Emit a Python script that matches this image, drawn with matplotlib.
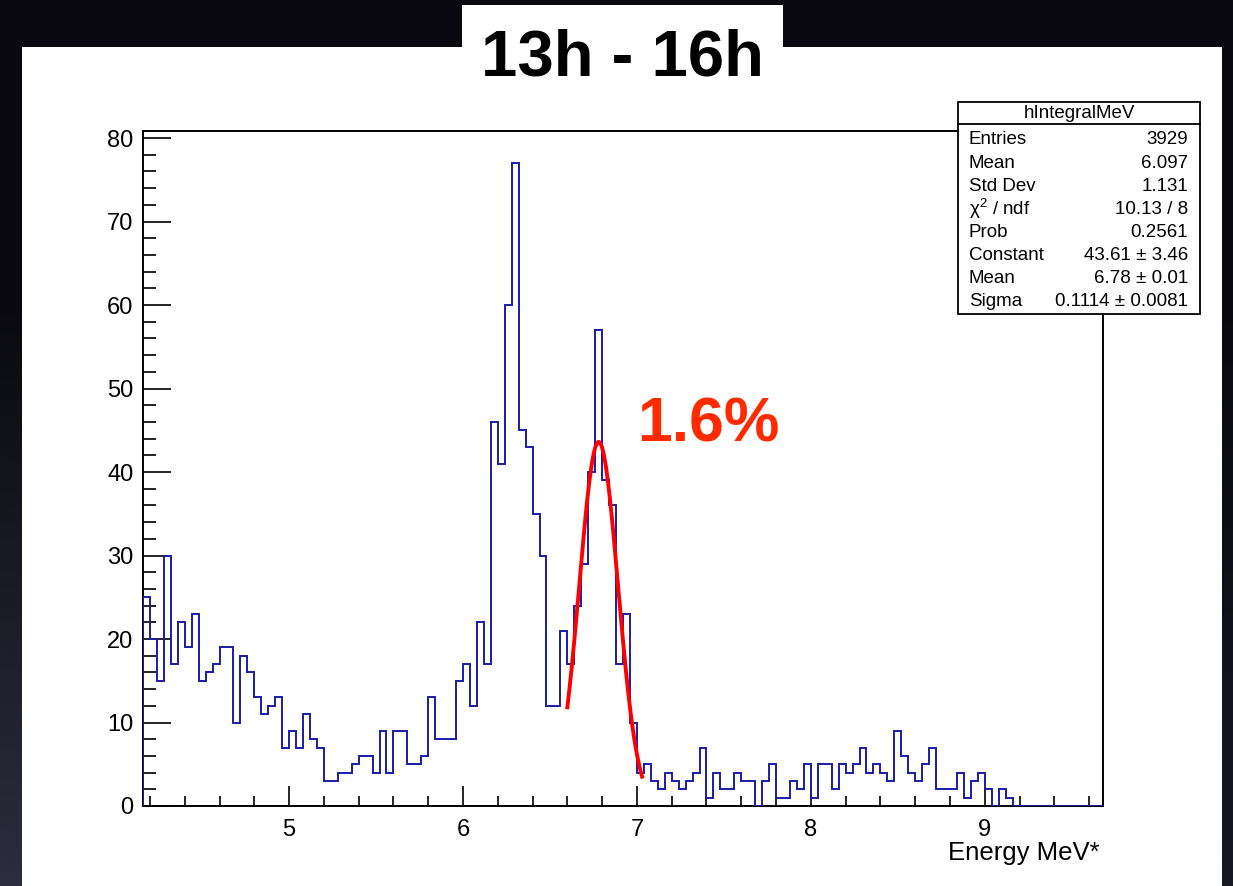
"""Energy spectrum for the 13h - 16h window with a Gaussian fit of the 6.8 MeV peak."""

from __future__ import annotations

import matplotlib

matplotlib.use("Agg")

import matplotlib.pyplot as plt
import numpy as np
from matplotlib.patches import Rectangle
from matplotlib.ticker import MultipleLocator

FIG_W, FIG_H = 1233, 886

TITLE = "13h - 16h"
HIST_NAME = "hIntegralMeV"
X_LABEL = "Energy MeV*"

# histogram binning and contents (counts per 0.04 MeV bin starting at 4.16 MeV)
BIN_LOW = 4.16
BIN_WIDTH = 0.04
COUNTS = [
    25, 20, 15, 30, 17, 22, 19, 23, 15, 16,
    17, 19, 19, 10, 18, 16, 13, 11, 12, 13,
    7, 9, 7, 11, 8, 7, 3, 3, 4, 4,
    5, 6, 6, 4, 9, 4, 9, 9, 5, 5,
    6, 13, 8, 8, 8, 15, 17, 12, 22, 17,
    46, 41, 60, 77, 45, 43, 35, 30, 12, 12,
    21, 17, 24, 29, 40, 57, 39, 36, 17, 23,
    10, 4, 5, 3, 2, 4, 3, 2, 3, 4,
    7, 1, 4, 2, 2, 4, 3, 3, 0, 3,
    5, 1, 1, 3, 2, 5, 1, 5, 5, 2,
    5, 4, 5, 7, 4, 5, 4, 3, 9, 6,
    4, 3, 5, 7, 2, 2, 2, 4, 1, 3,
    4, 2, 0, 2, 1, 0, 0, 0, 0, 0,
    0, 0, 0, 0, 0, 0, 0, 0,
]

# statistics box
ENTRIES = 3929
STAT_MEAN = 6.097
STAT_STD = 1.131
CHI2 = 10.13
NDF = 8
PROB = 0.2561
FIT_CONSTANT = (43.61, 3.46)
FIT_MEAN = (6.78, 0.01)
FIT_SIGMA = (0.1114, 0.0081)
FIT_RANGE = (6.60, 7.03)

HIST_COLOR = "#1c1ca6"
FIT_COLOR = "#ff0000"
NOTE_COLOR = "#ff2a00"


def fx(px: float) -> float:
    return px / FIG_W


def fy(py: float) -> float:
    return 1.0 - py / FIG_H


def draw_background(fig: plt.Figure) -> None:
    bg = fig.add_axes([0, 0, 1, 1], zorder=-10)
    yy, xx = np.mgrid[0:1:200j, 0:1:200j]
    shade = 0.04 + 0.22 * np.clip(yy - 0.35, 0, None) * (1.0 - 0.6 * xx)
    img = np.dstack([shade * 0.95, shade * 0.97, shade * 1.25 + 0.01])
    bg.imshow(np.clip(img, 0, 1), extent=[0, 1, 0, 1], aspect="auto", origin="upper")
    bg.set_axis_off()

    fig.patches.append(
        Rectangle((fx(22), 0), fx(1222) - fx(22), fy(47), transform=fig.transFigure,
                  facecolor="white", edgecolor="none", zorder=-5)
    )
    fig.patches.append(
        Rectangle((fx(462), fy(60)), fx(783) - fx(462), fy(5) - fy(60),
                  transform=fig.transFigure, facecolor="white", edgecolor="none", zorder=-5)
    )
    fig.text(fx(622), fy(59), TITLE, ha="center", va="center",
             fontsize=47, fontweight="bold", color="black")


def draw_histogram(fig: plt.Figure) -> plt.Axes:
    counts = np.asarray(COUNTS, dtype=float)
    edges = BIN_LOW + BIN_WIDTH * np.arange(counts.size + 1)

    ax = fig.add_axes([fx(143), fy(806), fx(1103) - fx(143), fy(131) - fy(806)])
    ax.set_facecolor("white")
    ax.stairs(counts, edges, color=HIST_COLOR, linewidth=1.4, zorder=3)

    const, mean, sigma = FIT_CONSTANT[0], FIT_MEAN[0], FIT_SIGMA[0]
    xs = np.linspace(FIT_RANGE[0], FIT_RANGE[1], 300)
    ax.plot(xs, const * np.exp(-0.5 * ((xs - mean) / sigma) ** 2),
            color=FIT_COLOR, linewidth=2.8, zorder=4)

    ax.text(7.0, 45.6, f"{100 * sigma / mean:.1f}%", color=NOTE_COLOR,
            fontsize=45, fontweight="bold", ha="left", va="center")

    ax.set_xlim(edges[0], edges[-1])
    ax.set_ylim(0, 1.05 * counts.max())
    ax.xaxis.set_major_locator(MultipleLocator(1))
    ax.xaxis.set_minor_locator(MultipleLocator(0.2))
    ax.yaxis.set_major_locator(MultipleLocator(10))
    ax.yaxis.set_minor_locator(MultipleLocator(2))
    ax.tick_params(axis="x", which="major", direction="in", length=14.5, width=1.2,
                   labelsize=17, pad=9, top=False)
    ax.tick_params(axis="x", which="minor", direction="in", length=7.2, width=1.2, top=False)
    ax.tick_params(axis="y", which="major", direction="in", length=20, width=1.2,
                   labelsize=17, pad=7, right=False)
    ax.tick_params(axis="y", which="minor", direction="in", length=9.5, width=1.2, right=False)
    for spine in ax.spines.values():
        spine.set_linewidth(1.4)

    fig.text(fx(1100), fy(853), X_LABEL, ha="right", va="center", fontsize=18.5)
    return ax


def draw_stats_box(fig: plt.Figure) -> None:
    left, right, top, bottom = 958, 1200, 102, 314
    fig.patches.append(
        Rectangle((fx(left), fy(bottom)), fx(right) - fx(left), fy(top) - fy(bottom),
                  transform=fig.transFigure, facecolor="white", edgecolor="black",
                  linewidth=1.3, zorder=20)
    )
    fig.add_artist(plt.Line2D([fx(left), fx(right)], [fy(124), fy(124)],
                              color="black", linewidth=1.3, zorder=21))
    fig.text(fx((left + right) / 2), fy(113), HIST_NAME, ha="center", va="center",
             fontsize=13.5, zorder=22)

    rows = [
        ("Entries", f"{ENTRIES}"),
        ("Mean", f"{STAT_MEAN:.3f}"),
        ("Std Dev", f"{STAT_STD:.3f}"),
        ("χ$^{2}$ / ndf", f"{CHI2:.2f} / {NDF}"),
        ("Prob", f"{PROB:.4f}"),
        ("Constant", f"{FIT_CONSTANT[0]:.2f} ± {FIT_CONSTANT[1]:.2f}"),
        ("Mean", f"{FIT_MEAN[0]:.2f} ± {FIT_MEAN[1]:.2f}"),
        ("Sigma", f"{FIT_SIGMA[0]:.4f} ± {FIT_SIGMA[1]:.4f}"),
    ]
    row_y = np.linspace(140, 302, len(rows))
    for (label, value), y in zip(rows, row_y):
        fig.text(fx(969), fy(y), label, ha="left", va="center", fontsize=13.5, zorder=22)
        fig.text(fx(1188), fy(y), value, ha="right", va="center", fontsize=13.5, zorder=22)


def main() -> None:
    plt.rcParams["font.family"] = ["Liberation Sans", "DejaVu Sans"]
    plt.rcParams["mathtext.fontset"] = "custom"
    plt.rcParams["mathtext.rm"] = "Liberation Sans"
    plt.rcParams["mathtext.it"] = "Liberation Sans:italic"

    fig = plt.figure(figsize=(FIG_W / 100, FIG_H / 100), dpi=100)
    fig.patch.set_facecolor("#0a0a10")
    draw_background(fig)
    draw_histogram(fig)
    draw_stats_box(fig)
    fig.savefig("out.png", dpi=100, facecolor=fig.get_facecolor())
    plt.close(fig)


if __name__ == "__main__":
    main()
